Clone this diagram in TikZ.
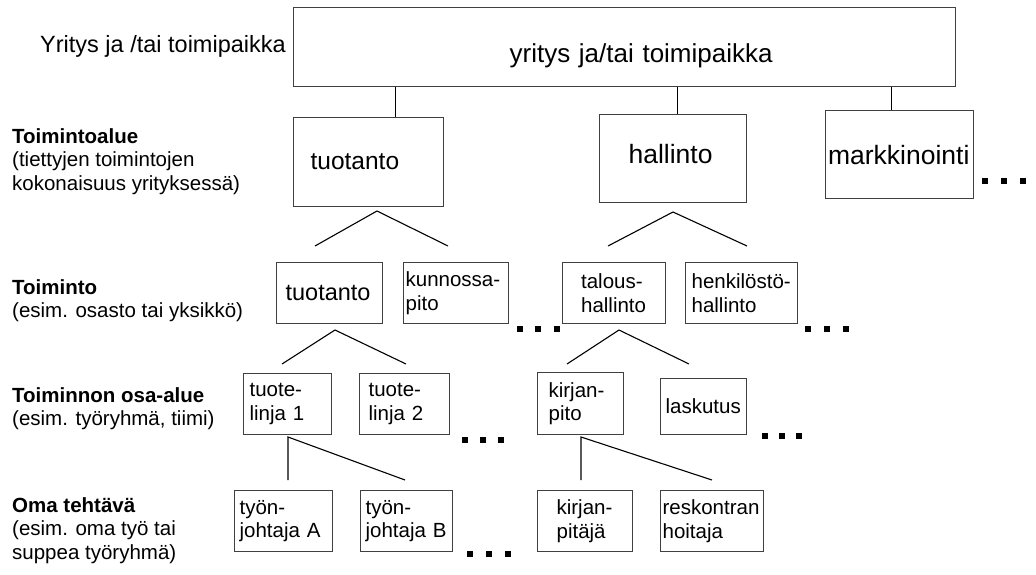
\documentclass[tikz,border=0pt]{standalone}
\usepackage{fontspec}
\setmainfont{Liberation Sans}
\hyphenpenalty=10000
\newcommand\levelfont{\fontsize{20.5}{23.5}\selectfont}
\newcommand\unitfont{\fontsize{20.5}{23.5}\selectfont}
\newcommand\firmfont{\fontsize{26}{30}\selectfont}
\newcommand\areafont{\fontsize{26.5}{30}\selectfont}
\newcommand\firmlabelfont{\fontsize{23.5}{27}\selectfont}
\tikzset{
  unit/.style={draw=black!75, line width=1.2pt, anchor=north west, align=left,
    inner ysep=0pt, font=\unitfont},
  level/.style={anchor=north west, align=left, inner sep=0pt, font=\levelfont},
  link/.style={line width=1.1pt}
}
\begin{document}
\begin{tikzpicture}[x=1pt, y=-1pt]
    \useasboundingbox (0,0) rectangle (1036,575);

    % Tasojen nimet
    \node[anchor=base west, inner sep=0pt, font=\firmlabelfont] (lfirm) at (40,53) {Yritys ja /tai toimipaikka};
    \node[level] (larea) at (12,128.3) {\textbf{Toimintoalue}\\(tiettyjen toimintojen\\kokonaisuus yrityksessä)};
    \node[level] (lfunc) at (12,279.3) {\textbf{Toiminto}\\(esim. osasto tai yksikkö)};
    \node[level] (lpart) at (12,387.3) {\textbf{Toiminnon osa-alue}\\(esim. työryhmä, tiimi)};
    \node[level] (ltask) at (12,497.3) {\textbf{Oma tehtävä}\\(esim. oma työ tai\\suppea työryhmä)};

    % Yritys
    \node[unit, font=\firmfont, minimum height=79pt, inner xsep=183pt, text width=296pt,
      align=right, text height=31pt, text depth=0pt] (firm) at (293,7) {yritys ja/tai toimipaikka};

    % Toimintoalueet
    \node[unit, font=\fontsize{24.5}{28}\selectfont, minimum height=89pt, inner xsep=17pt, text width=116pt] (fa1) at (293,117) {tuotanto};
    \node[unit, font=\areafont, minimum height=88pt, inner xsep=29pt, text width=89pt, text depth=9pt] (fa2) at (599,114) {hallinto};
    \node[unit, font=\areafont, minimum height=88pt, inner xsep=2.5pt, text width=143pt] (fa3) at (825,110) {markkinointi};

    % Toiminnot
    \node[unit, font=\fontsize{23.5}{27}\selectfont, minimum height=61pt, inner xsep=9pt, text width=88pt] (f1) at (276,262) {tuotanto};
    \node[unit, minimum height=61pt, inner xsep=2pt, text width=101pt] (f2) at (403,262) {kunnossa-\\pito};
    \node[unit, minimum height=61pt, inner xsep=18.5pt, text width=66pt] (f3) at (562,262) {talous-\\hallinto};
    \node[unit, minimum height=61pt, inner xsep=6pt, text width=100pt] (f4) at (685,262) {henkilöstö-\\hallinto};

    % Osa-alueet
    \node[unit, minimum height=61pt, inner xsep=6pt, text width=76pt] (g1) at (243,373) {tuote-\\linja 1};
    \node[unit, minimum height=61pt, inner xsep=9pt, text width=72pt] (g2) at (359,373) {tuote-\\linja 2};
    \node[unit, minimum height=62pt, inner xsep=11pt, text width=64pt] (g3) at (537,372) {kirjan-\\pito};
    \node[unit, minimum height=56pt, inner xsep=5pt, text width=76pt] (g4) at (660,378) {laskutus};

    % Tehtävät
    \node[unit, minimum height=61pt, inner xsep=5pt, text width=88pt] (h1) at (234,490) {työn-\\johtaja A};
    \node[unit, minimum height=61pt, inner xsep=5pt, text width=82pt] (h2) at (360,490) {työn-\\johtaja B};
    \node[unit, minimum height=61pt, inner xsep=19pt, text width=57pt] (h3) at (537,490) {kirjan-\\pitäjä};
    \node[unit, minimum height=61pt, inner xsep=2pt, text width=99pt] (h4) at (660,490) {reskontran\\hoitaja};

    % Yhteydet yrityksestä
    \draw[link] ([xshift=27pt]fa1.north) -- ([xshift=27pt]fa1.north |- firm.south);
    \draw[link] ([xshift=4.5pt]fa2.north) -- ([xshift=4.5pt]fa2.north |- firm.south);
    \draw[link] ([xshift=-8pt]fa3.north) -- ([xshift=-8pt]fa3.north |- firm.south);

    % Haarat
    \coordinate (k1) at (377,211); \coordinate (k1l) at (315,246); \coordinate (k1r) at (448,246);
    \coordinate (k2) at (673,212); \coordinate (k2l) at (608,246); \coordinate (k2r) at (747,246);
    \coordinate (k3) at (335,330); \coordinate (k3l) at (282,364); \coordinate (k3r) at (406,364);
    \coordinate (k4) at (619,330); \coordinate (k4l) at (567,364); \coordinate (k4r) at (689,364);
    \draw[link] (k1l) -- (k1) -- (k1r);
    \draw[link] (k2l) -- (k2) -- (k2r);
    \draw[link] (k3l) -- (k3) -- (k3r);
    \draw[link] (k4l) -- (k4) -- (k4r);

    \coordinate (s1) at (288,437); \coordinate (s1a) at (288,480); \coordinate (s1b) at (405,480);
    \coordinate (s2) at (581,437); \coordinate (s2a) at (581,480); \coordinate (s2b) at (712,480);
    \draw[link] (s1a) -- (s1) -- (s1b);
    \draw[link] (s2a) -- (s2) -- (s2b);

    % Pisteet
    \foreach \x/\y in {985/181, 1004/181, 1023/181, 520/329, 538/329, 557/329,
        808/329, 827/329, 846/329, 465/440, 483/440, 501/440,
        765/436, 782/436, 799/436, 470/554, 489/554, 508/554}
      \fill (\x-3.25,\y-3.25) rectangle (\x+3.25,\y+3.25);
\end{tikzpicture}
\end{document}
